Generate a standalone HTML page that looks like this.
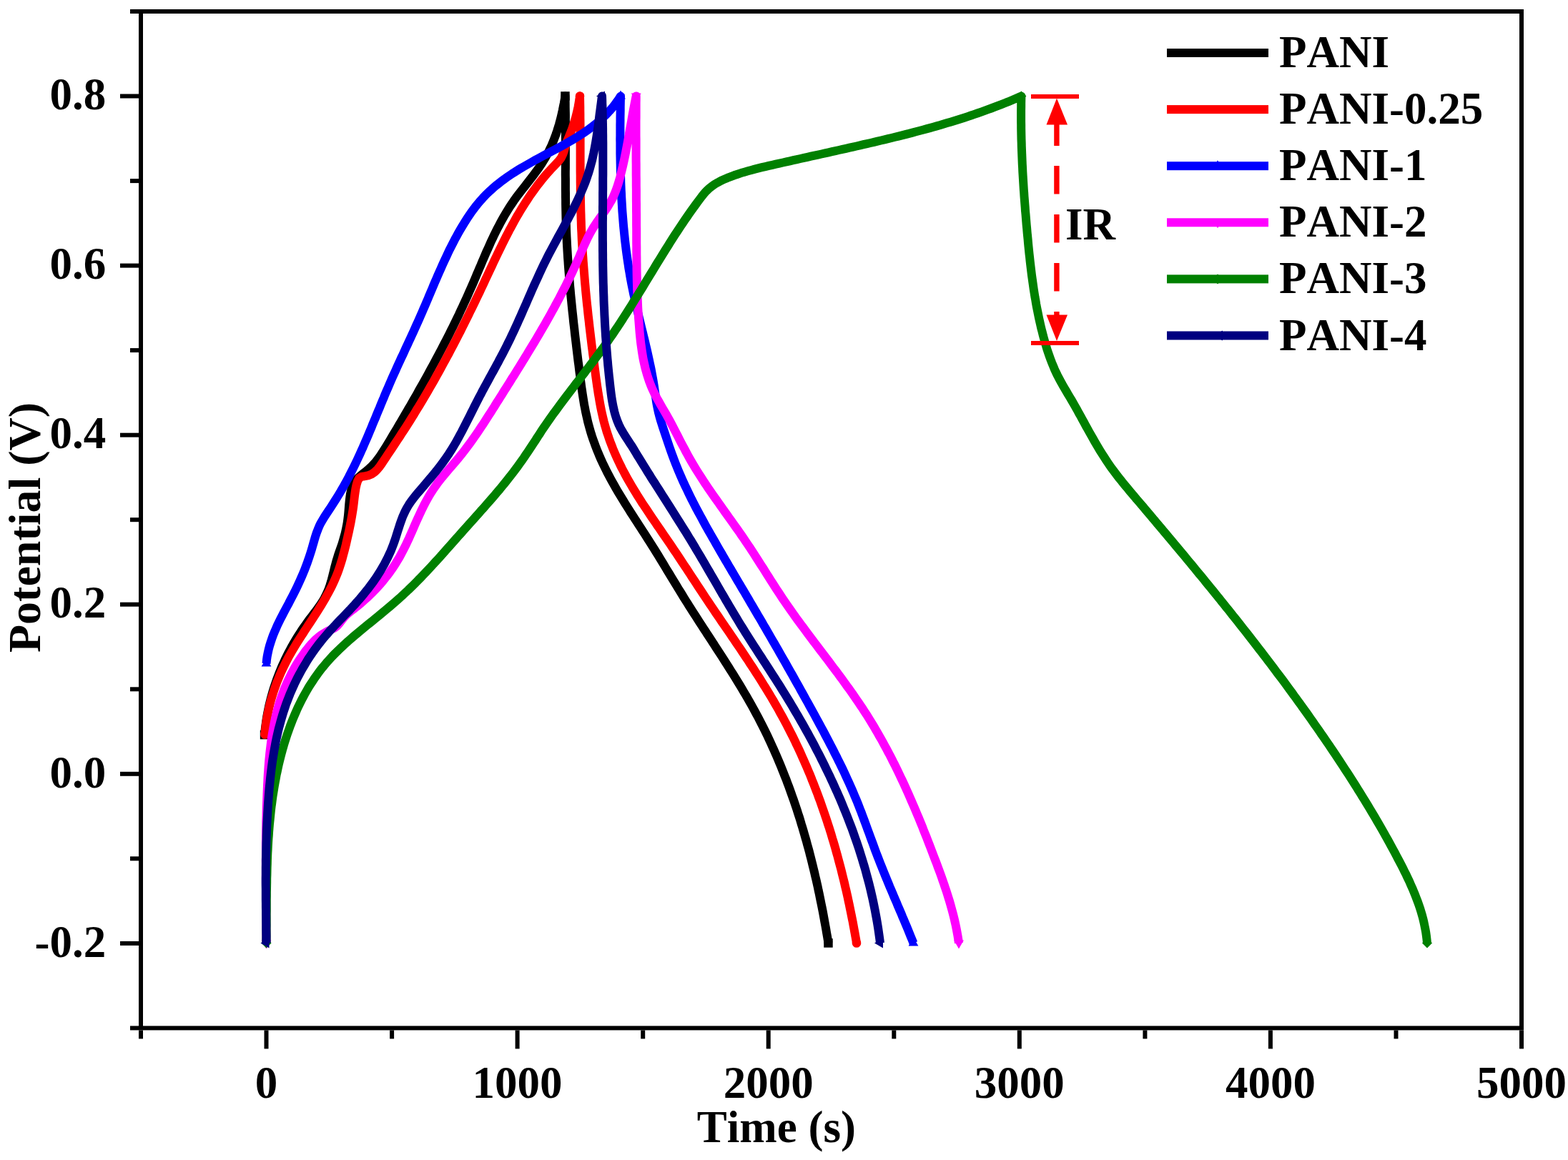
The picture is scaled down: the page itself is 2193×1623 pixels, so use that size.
<!DOCTYPE html>
<html><head><meta charset="utf-8"><title>GCD curves</title>
<style>html,body{margin:0;padding:0;background:#fff;}svg{display:block;}text{font-kerning:none;font-feature-settings:"kern" 0;}</style>
</head><body>
<svg width="2193" height="1623" viewBox="0 0 2193 1623"><rect width="2193" height="1623" fill="#fff"/><g fill="none" stroke-width="12" stroke-linejoin="round" stroke-linecap="butt"><path stroke="#000000" d="M370.0,1028.0 L370.5,1023.0 L371.0,1018.0 L371.7,1013.0 L372.4,1008.0 L373.2,1003.0 L374.1,998.0 L375.1,993.1 L376.1,988.2 L377.3,983.3 L378.5,978.4 L379.8,973.6 L381.2,968.7 L382.6,963.9 L384.2,959.1 L385.8,954.4 L387.5,949.6 L389.3,944.9 L391.1,940.2 L393.0,935.6 L395.0,931.0 L397.1,926.4 L399.2,921.8 L401.4,917.3 L403.7,912.8 L406.1,908.4 L408.5,903.9 L411.0,899.5 L413.6,895.2 L416.2,890.9 L418.9,886.6 L421.6,882.4 L424.5,878.2 L427.4,874.1 L430.3,870.0 L433.3,865.9 L436.4,861.9 L439.4,857.9 L442.5,853.8 L445.4,849.8 L448.3,845.7 L451.0,841.5 L453.5,837.3 L455.8,832.9 L457.9,828.4 L459.8,823.8 L461.4,819.1 L462.9,814.3 L464.3,809.4 L465.5,804.5 L466.7,799.6 L467.9,794.6 L469.2,789.7 L470.5,784.8 L472.0,779.9 L473.5,775.1 L475.2,770.4 L476.9,765.6 L478.5,760.9 L479.9,756.1 L481.3,751.3 L482.6,746.5 L483.7,741.7 L484.7,736.8 L485.6,731.8 L486.3,726.8 L486.9,721.8 L487.4,716.6 L487.8,711.5 L488.2,706.3 L488.7,701.1 L489.3,696.0 L490.0,691.0 L491.1,686.1 L492.4,681.3 L494.3,676.9 L496.8,672.8 L500.0,669.2 L503.7,665.9 L507.6,662.8 L511.6,659.6 L515.5,656.4 L519.2,653.0 L522.6,649.4 L525.9,645.6 L528.9,641.7 L531.8,637.6 L534.6,633.5 L537.3,629.2 L540.0,624.9 L542.6,620.6 L545.2,616.3 L547.7,612.0 L550.3,607.6 L552.9,603.3 L555.5,599.0 L558.0,594.6 L560.6,590.3 L563.1,586.0 L565.7,581.6 L568.2,577.3 L570.7,572.9 L573.3,568.6 L575.8,564.2 L578.3,559.8 L580.8,555.5 L583.3,551.1 L585.7,546.7 L588.2,542.3 L590.7,537.9 L593.1,533.6 L595.6,529.2 L598.0,524.8 L600.4,520.3 L602.8,515.9 L605.2,511.5 L607.6,507.1 L610.0,502.6 L612.4,498.2 L614.7,493.8 L617.1,489.3 L619.4,484.8 L621.7,480.4 L624.0,475.9 L626.3,471.4 L628.6,466.9 L630.8,462.4 L633.1,457.9 L635.3,453.4 L637.5,448.9 L639.7,444.3 L641.9,439.8 L644.0,435.2 L646.2,430.7 L648.3,426.1 L650.4,421.5 L652.5,416.9 L654.6,412.3 L656.6,407.7 L658.7,403.1 L660.7,398.5 L662.7,393.8 L664.7,389.2 L666.6,384.5 L668.6,379.9 L670.6,375.2 L672.6,370.6 L674.5,365.9 L676.5,361.3 L678.5,356.6 L680.5,352.0 L682.6,347.4 L684.7,342.8 L686.7,338.2 L688.9,333.7 L691.0,329.1 L693.2,324.6 L695.5,320.1 L697.8,315.7 L700.1,311.2 L702.6,306.8 L705.0,302.5 L707.6,298.2 L710.2,293.9 L712.8,289.6 L715.6,285.5 L718.4,281.3 L721.3,277.2 L724.3,273.2 L727.4,269.1 L730.5,265.1 L733.6,261.2 L736.7,257.2 L739.8,253.2 L742.9,249.2 L746.0,245.2 L749.0,241.2 L752.0,237.1 L754.9,233.0 L757.7,228.8 L760.3,224.6 L762.9,220.3 L765.3,215.9 L767.6,211.5 L769.8,207.0 L771.9,202.4 L773.8,197.8 L775.6,193.1 L777.4,188.3 L779.0,183.6 L780.5,178.8 L782.0,173.9 L783.3,169.0 L784.6,164.1 L785.7,159.2 L786.8,154.3 L787.8,149.3 L788.8,144.4 L789.7,139.4 L790.5,134.5 L790.6,139.5 L790.7,144.6 L790.7,149.6 L790.8,154.6 L790.9,159.6 L790.9,164.7 L790.9,169.7 L790.9,174.7 L790.9,179.8 L791.0,184.8 L790.9,189.9 L790.9,194.9 L790.9,199.9 L790.9,205.0 L790.9,210.0 L790.9,215.0 L790.9,220.1 L790.9,225.1 L790.9,230.2 L790.9,235.2 L790.8,240.2 L790.8,245.3 L790.9,250.3 L790.9,255.3 L790.9,260.4 L790.9,265.4 L791.0,270.4 L791.0,275.5 L791.1,280.5 L791.1,285.6 L791.2,290.6 L791.3,295.6 L791.4,300.6 L791.5,305.7 L791.7,310.7 L791.9,315.7 L792.0,320.8 L792.2,325.8 L792.4,330.8 L792.7,335.8 L792.9,340.8 L793.2,345.9 L793.5,350.9 L793.8,355.9 L794.1,360.9 L794.5,365.9 L794.8,370.9 L795.2,376.0 L795.6,381.0 L796.0,386.0 L796.4,391.0 L796.8,396.0 L797.2,401.0 L797.7,406.0 L798.1,411.0 L798.6,416.0 L799.1,421.0 L799.6,426.1 L800.1,431.1 L800.6,436.1 L801.2,441.1 L801.7,446.1 L802.2,451.1 L802.8,456.1 L803.4,461.1 L803.9,466.1 L804.5,471.1 L805.1,476.1 L805.7,481.1 L806.3,486.2 L806.9,491.2 L807.5,496.2 L808.1,501.2 L808.7,506.2 L809.4,511.2 L810.0,516.2 L810.6,521.2 L811.3,526.2 L811.9,531.3 L812.6,536.3 L813.2,541.3 L814.0,546.3 L814.7,551.2 L815.5,556.2 L816.3,561.2 L817.1,566.2 L818.1,571.1 L819.0,576.0 L820.1,580.9 L821.2,585.8 L822.3,590.7 L823.6,595.5 L824.9,600.3 L826.3,605.1 L827.8,609.9 L829.4,614.6 L831.1,619.3 L832.8,624.0 L834.6,628.7 L836.5,633.3 L838.4,637.9 L840.4,642.5 L842.5,647.1 L844.7,651.6 L846.9,656.1 L849.1,660.6 L851.5,665.1 L853.8,669.5 L856.2,673.9 L858.7,678.3 L861.2,682.7 L863.7,687.1 L866.3,691.4 L868.9,695.7 L871.6,700.0 L874.2,704.3 L876.9,708.6 L879.6,712.9 L882.3,717.2 L885.1,721.5 L887.8,725.7 L890.6,730.0 L893.3,734.2 L896.1,738.5 L898.8,742.7 L901.6,747.0 L904.3,751.2 L907.0,755.5 L909.7,759.7 L912.4,764.0 L915.1,768.3 L917.7,772.5 L920.4,776.8 L923.0,781.1 L925.6,785.4 L928.2,789.7 L930.8,794.0 L933.4,798.3 L936.0,802.5 L938.6,806.8 L941.2,811.1 L943.8,815.4 L946.4,819.7 L949.0,824.0 L951.7,828.3 L954.3,832.5 L956.9,836.8 L959.6,841.1 L962.3,845.3 L964.9,849.6 L967.6,853.8 L970.3,858.0 L973.1,862.3 L975.8,866.5 L978.5,870.7 L981.3,875.0 L984.0,879.2 L986.8,883.4 L989.5,887.7 L992.3,891.9 L995.0,896.1 L997.8,900.3 L1000.5,904.6 L1003.3,908.8 L1006.0,913.0 L1008.8,917.3 L1011.5,921.5 L1014.2,925.8 L1016.9,930.0 L1019.6,934.3 L1022.3,938.6 L1025.0,942.8 L1027.7,947.1 L1030.3,951.4 L1032.9,955.7 L1035.6,960.0 L1038.1,964.3 L1040.7,968.7 L1043.3,973.0 L1045.8,977.4 L1048.3,981.7 L1050.8,986.1 L1053.2,990.5 L1055.6,994.9 L1058.0,999.3 L1060.4,1003.8 L1062.7,1008.2 L1065.0,1012.7 L1067.3,1017.2 L1069.5,1021.7 L1071.7,1026.2 L1073.9,1030.7 L1076.0,1035.3 L1078.1,1039.8 L1080.2,1044.4 L1082.3,1049.0 L1084.3,1053.6 L1086.3,1058.2 L1088.3,1062.8 L1090.2,1067.4 L1092.2,1072.1 L1094.0,1076.7 L1095.9,1081.4 L1097.7,1086.1 L1099.6,1090.8 L1101.3,1095.5 L1103.1,1100.2 L1104.8,1104.9 L1106.5,1109.6 L1108.2,1114.4 L1109.9,1119.1 L1111.5,1123.9 L1113.1,1128.7 L1114.7,1133.4 L1116.2,1138.2 L1117.8,1143.0 L1119.3,1147.8 L1120.7,1152.7 L1122.2,1157.5 L1123.6,1162.3 L1125.0,1167.1 L1126.4,1172.0 L1127.8,1176.8 L1129.1,1181.7 L1130.5,1186.6 L1131.8,1191.4 L1133.0,1196.3 L1134.3,1201.2 L1135.5,1206.1 L1136.7,1211.0 L1137.9,1215.9 L1139.1,1220.8 L1140.2,1225.7 L1141.4,1230.6 L1142.5,1235.5 L1143.6,1240.4 L1144.6,1245.4 L1145.7,1250.3 L1146.7,1255.2 L1147.7,1260.2 L1148.7,1265.1 L1149.7,1270.0 L1150.7,1275.0 L1151.6,1279.9 L1152.5,1284.9 L1153.4,1289.8 L1154.3,1294.8 L1155.2,1299.7 L1156.0,1304.6 L1156.9,1309.6 L1157.7,1314.5 L1158.5,1319.5"/><rect x="363.8" y="1021.8" width="12.5" height="12.5" fill="#000000"/><rect x="784.2" y="128.2" width="12.5" height="12.5" fill="#000000"/><rect x="1152.2" y="1313.2" width="12.5" height="12.5" fill="#000000"/><path stroke="#ff0000" d="M370.4,1027.5 L370.9,1022.5 L371.4,1017.4 L372.1,1012.4 L372.8,1007.5 L373.7,1002.5 L374.7,997.6 L375.7,992.7 L376.9,987.8 L378.1,982.9 L379.4,978.1 L380.9,973.3 L382.4,968.5 L384.0,963.7 L385.7,959.0 L387.4,954.3 L389.3,949.7 L391.2,945.0 L393.2,940.4 L395.3,935.9 L397.5,931.4 L399.7,926.9 L402.0,922.4 L404.4,918.0 L406.9,913.6 L409.4,909.3 L412.0,905.0 L414.6,900.7 L417.2,896.4 L419.9,892.2 L422.7,888.0 L425.4,883.7 L428.2,879.5 L430.9,875.3 L433.7,871.1 L436.4,866.9 L439.2,862.7 L441.9,858.5 L444.6,854.2 L447.2,850.0 L449.9,845.7 L452.4,841.4 L455.0,837.1 L457.4,832.7 L459.8,828.3 L462.1,823.9 L464.4,819.4 L466.5,814.9 L468.6,810.3 L470.5,805.7 L472.4,801.0 L474.1,796.2 L475.7,791.4 L477.2,786.6 L478.7,781.7 L480.0,776.8 L481.3,771.9 L482.6,767.0 L483.8,762.1 L484.9,757.1 L486.0,752.2 L487.1,747.4 L488.2,742.5 L489.2,737.6 L490.2,732.8 L491.1,727.9 L492.0,723.0 L492.8,718.1 L493.6,713.1 L494.3,708.1 L494.9,703.0 L495.5,697.9 L496.1,692.8 L496.8,687.8 L497.6,682.8 L498.7,677.9 L500.1,673.2 L502.2,669.2 L505.9,666.9 L510.8,666.1 L515.8,665.1 L520.2,663.2 L524.1,660.4 L527.6,657.0 L530.8,653.2 L533.7,649.0 L536.6,644.7 L539.5,640.4 L542.3,636.1 L545.1,631.9 L548.0,627.6 L550.8,623.4 L553.5,619.2 L556.3,615.0 L559.1,610.8 L561.8,606.6 L564.6,602.4 L567.3,598.2 L570.0,594.0 L572.7,589.7 L575.3,585.5 L578.0,581.3 L580.6,577.0 L583.2,572.7 L585.9,568.4 L588.4,564.2 L591.0,559.9 L593.6,555.5 L596.1,551.2 L598.6,546.9 L601.1,542.6 L603.6,538.2 L606.1,533.9 L608.6,529.5 L611.0,525.1 L613.5,520.7 L615.9,516.3 L618.3,511.9 L620.7,507.5 L623.1,503.1 L625.5,498.7 L627.9,494.3 L630.2,489.8 L632.5,485.4 L634.9,480.9 L637.2,476.5 L639.5,472.0 L641.8,467.5 L644.1,463.1 L646.3,458.6 L648.6,454.1 L650.8,449.6 L653.1,445.1 L655.3,440.6 L657.5,436.0 L659.7,431.5 L661.9,427.0 L664.1,422.5 L666.3,417.9 L668.5,413.4 L670.7,408.8 L672.8,404.3 L675.0,399.7 L677.1,395.2 L679.2,390.6 L681.4,386.0 L683.5,381.5 L685.6,376.9 L687.8,372.3 L689.9,367.8 L692.1,363.2 L694.2,358.7 L696.4,354.2 L698.6,349.6 L700.8,345.1 L703.0,340.6 L705.3,336.1 L707.5,331.6 L709.8,327.2 L712.1,322.7 L714.5,318.3 L716.9,313.9 L719.3,309.5 L721.7,305.2 L724.2,300.8 L726.8,296.5 L729.3,292.2 L732.0,288.0 L734.6,283.8 L737.4,279.6 L740.1,275.4 L743.0,271.3 L745.9,267.2 L748.8,263.2 L751.8,259.2 L754.9,255.2 L758.0,251.3 L761.2,247.4 L764.5,243.5 L767.9,239.7 L771.3,236.0 L774.8,232.3 L778.3,228.6 L781.8,224.9 L784.8,220.9 L787.0,216.4 L788.7,211.7 L790.1,206.7 L791.6,201.9 L793.3,197.1 L795.2,192.5 L797.1,187.9 L799.0,183.2 L800.7,178.5 L802.3,173.7 L803.8,168.9 L805.2,164.1 L806.4,159.2 L807.6,154.3 L808.6,149.4 L809.5,144.4 L810.3,139.5 L811.0,134.5 L811.1,139.5 L811.2,144.5 L811.3,149.6 L811.3,154.6 L811.4,159.6 L811.4,164.6 L811.5,169.7 L811.5,174.7 L811.5,179.7 L811.5,184.7 L811.6,189.8 L811.6,194.8 L811.6,199.8 L811.6,204.8 L811.6,209.9 L811.6,214.9 L811.6,219.9 L811.6,225.0 L811.6,230.0 L811.6,235.0 L811.6,240.1 L811.7,245.1 L811.7,250.1 L811.7,255.1 L811.8,260.2 L811.8,265.2 L811.9,270.2 L811.9,275.3 L812.0,280.3 L812.1,285.3 L812.2,290.3 L812.3,295.4 L812.5,300.4 L812.6,305.4 L812.8,310.4 L812.9,315.4 L813.1,320.5 L813.4,325.5 L813.6,330.5 L813.8,335.5 L814.1,340.5 L814.4,345.5 L814.7,350.5 L815.0,355.5 L815.4,360.6 L815.7,365.6 L816.1,370.6 L816.5,375.6 L816.9,380.6 L817.3,385.6 L817.7,390.6 L818.1,395.6 L818.6,400.6 L819.0,405.6 L819.5,410.6 L820.0,415.6 L820.5,420.6 L821.0,425.6 L821.6,430.6 L822.1,435.6 L822.6,440.6 L823.2,445.6 L823.8,450.6 L824.3,455.6 L824.9,460.5 L825.5,465.5 L826.1,470.5 L826.7,475.5 L827.3,480.5 L827.9,485.5 L828.6,490.5 L829.2,495.5 L829.9,500.5 L830.5,505.5 L831.2,510.5 L831.8,515.5 L832.5,520.5 L833.1,525.5 L833.8,530.5 L834.5,535.5 L835.2,540.5 L836.0,545.5 L836.7,550.4 L837.6,555.4 L838.4,560.4 L839.3,565.3 L840.2,570.2 L841.2,575.1 L842.3,580.0 L843.4,584.9 L844.6,589.8 L845.9,594.6 L847.3,599.4 L848.7,604.2 L850.3,608.9 L851.9,613.7 L853.6,618.4 L855.4,623.0 L857.2,627.7 L859.1,632.3 L861.1,636.9 L863.2,641.5 L865.3,646.0 L867.5,650.5 L869.7,655.0 L872.1,659.5 L874.4,663.9 L876.8,668.3 L879.3,672.7 L881.8,677.0 L884.3,681.4 L886.9,685.7 L889.6,690.0 L892.2,694.3 L894.9,698.5 L897.6,702.8 L900.4,707.0 L903.2,711.2 L906.0,715.4 L908.8,719.6 L911.6,723.8 L914.4,727.9 L917.3,732.1 L920.1,736.3 L923.0,740.4 L925.8,744.6 L928.7,748.8 L931.5,752.9 L934.4,757.1 L937.2,761.2 L940.0,765.4 L942.8,769.6 L945.6,773.7 L948.4,777.9 L951.2,782.1 L953.9,786.3 L956.7,790.5 L959.5,794.6 L962.2,798.8 L965.0,803.0 L967.7,807.2 L970.5,811.4 L973.2,815.6 L976.0,819.8 L978.7,823.9 L981.5,828.1 L984.2,832.3 L987.0,836.5 L989.8,840.6 L992.6,844.8 L995.4,849.0 L998.2,853.1 L1001.0,857.3 L1003.9,861.5 L1006.7,865.6 L1009.5,869.8 L1012.3,873.9 L1015.2,878.1 L1018.0,882.2 L1020.9,886.4 L1023.7,890.6 L1026.5,894.7 L1029.3,898.9 L1032.2,903.1 L1035.0,907.2 L1037.8,911.4 L1040.6,915.6 L1043.4,919.8 L1046.2,924.0 L1048.9,928.2 L1051.7,932.4 L1054.4,936.6 L1057.2,940.9 L1059.9,945.1 L1062.6,949.3 L1065.3,953.6 L1067.9,957.9 L1070.6,962.1 L1073.2,966.4 L1075.8,970.7 L1078.4,975.0 L1081.0,979.3 L1083.5,983.7 L1086.0,988.0 L1088.5,992.4 L1090.9,996.8 L1093.4,1001.2 L1095.8,1005.6 L1098.1,1010.0 L1100.5,1014.4 L1102.8,1018.9 L1105.1,1023.4 L1107.3,1027.8 L1109.6,1032.3 L1111.8,1036.8 L1113.9,1041.4 L1116.1,1045.9 L1118.2,1050.4 L1120.3,1055.0 L1122.3,1059.6 L1124.4,1064.2 L1126.4,1068.8 L1128.4,1073.4 L1130.3,1078.0 L1132.3,1082.6 L1134.2,1087.3 L1136.0,1092.0 L1137.9,1096.6 L1139.7,1101.3 L1141.5,1106.0 L1143.3,1110.7 L1145.0,1115.4 L1146.8,1120.1 L1148.5,1124.9 L1150.1,1129.6 L1151.8,1134.4 L1153.4,1139.1 L1155.0,1143.9 L1156.6,1148.7 L1158.1,1153.4 L1159.7,1158.2 L1161.2,1163.0 L1162.7,1167.8 L1164.1,1172.7 L1165.6,1177.5 L1167.0,1182.3 L1168.4,1187.1 L1169.7,1192.0 L1171.1,1196.8 L1172.4,1201.7 L1173.7,1206.6 L1175.0,1211.4 L1176.3,1216.3 L1177.5,1221.2 L1178.7,1226.1 L1179.9,1230.9 L1181.1,1235.8 L1182.2,1240.7 L1183.4,1245.6 L1184.5,1250.5 L1185.6,1255.4 L1186.6,1260.4 L1187.7,1265.3 L1188.7,1270.2 L1189.7,1275.1 L1190.7,1280.0 L1191.7,1285.0 L1192.7,1289.9 L1193.6,1294.8 L1194.5,1299.8 L1195.4,1304.7 L1196.3,1309.6 L1197.2,1314.6 L1198.0,1319.5"/><circle cx="370.4" cy="1027.5" r="6.3" fill="#ff0000"/><circle cx="811.0" cy="134.5" r="6.3" fill="#ff0000"/><circle cx="1198.0" cy="1319.5" r="6.3" fill="#ff0000"/><path stroke="#0000ff" d="M372.5,928.4 L373.0,923.2 L373.7,918.2 L374.7,913.2 L375.8,908.2 L377.1,903.4 L378.6,898.6 L380.2,893.8 L381.9,889.1 L383.8,884.4 L385.8,879.8 L387.8,875.2 L390.0,870.7 L392.2,866.2 L394.5,861.7 L396.8,857.2 L399.2,852.7 L401.6,848.2 L404.0,843.8 L406.3,839.3 L408.7,834.8 L411.0,830.3 L413.2,825.8 L415.4,821.3 L417.6,816.7 L419.7,812.1 L421.7,807.5 L423.7,802.9 L425.6,798.3 L427.4,793.6 L429.2,788.9 L430.9,784.1 L432.5,779.4 L434.1,774.5 L435.6,769.7 L437.0,764.9 L438.4,760.0 L439.8,755.1 L441.2,750.3 L442.8,745.5 L444.6,740.8 L446.5,736.2 L448.7,731.7 L451.2,727.4 L453.8,723.1 L456.6,718.9 L459.4,714.7 L462.2,710.5 L464.9,706.3 L467.6,702.0 L470.3,697.7 L473.0,693.4 L475.6,689.1 L478.1,684.7 L480.6,680.4 L483.1,676.0 L485.5,671.5 L487.9,667.1 L490.2,662.6 L492.5,658.1 L494.7,653.6 L496.9,649.1 L499.1,644.5 L501.2,640.0 L503.3,635.4 L505.4,630.8 L507.5,626.2 L509.5,621.5 L511.5,616.9 L513.5,612.3 L515.5,607.6 L517.4,603.0 L519.4,598.3 L521.3,593.6 L523.2,589.0 L525.2,584.3 L527.1,579.6 L529.0,574.9 L531.0,570.3 L532.9,565.6 L534.8,560.9 L536.8,556.3 L538.7,551.6 L540.7,546.9 L542.7,542.3 L544.7,537.7 L546.7,533.0 L548.7,528.4 L550.8,523.8 L552.9,519.2 L554.9,514.6 L557.0,510.0 L559.1,505.4 L561.2,500.9 L563.4,496.3 L565.5,491.7 L567.6,487.1 L569.7,482.6 L571.8,478.0 L574.0,473.4 L576.1,468.8 L578.2,464.2 L580.3,459.6 L582.3,455.0 L584.4,450.4 L586.5,445.8 L588.5,441.2 L590.5,436.6 L592.5,431.9 L594.5,427.3 L596.5,422.7 L598.5,418.0 L600.4,413.3 L602.4,408.7 L604.4,404.0 L606.3,399.4 L608.3,394.7 L610.3,390.1 L612.3,385.4 L614.3,380.8 L616.4,376.2 L618.4,371.6 L620.5,367.0 L622.6,362.4 L624.8,357.8 L626.9,353.3 L629.1,348.7 L631.4,344.2 L633.7,339.7 L636.0,335.2 L638.4,330.8 L640.8,326.4 L643.3,322.0 L645.9,317.6 L648.5,313.3 L651.2,309.0 L653.9,304.8 L656.7,300.6 L659.6,296.4 L662.6,292.4 L665.6,288.4 L668.8,284.5 L672.0,280.7 L675.4,276.9 L678.8,273.3 L682.4,269.8 L686.0,266.4 L689.7,263.1 L693.5,259.8 L697.4,256.7 L701.4,253.6 L705.4,250.6 L709.5,247.7 L713.6,244.9 L717.8,242.1 L722.1,239.4 L726.4,236.7 L730.7,234.1 L735.1,231.6 L739.5,229.1 L743.9,226.6 L748.4,224.1 L752.8,221.7 L757.3,219.3 L761.8,216.9 L766.3,214.5 L770.8,212.2 L775.3,209.8 L779.8,207.4 L784.3,205.0 L788.7,202.5 L793.1,200.0 L797.5,197.5 L801.8,195.0 L806.1,192.4 L810.4,189.7 L814.6,187.0 L818.7,184.2 L822.8,181.3 L826.8,178.4 L830.8,175.3 L834.7,172.2 L838.4,169.0 L842.1,165.7 L845.8,162.2 L849.3,158.7 L852.7,155.0 L856.0,151.2 L859.2,147.2 L862.2,143.1 L865.2,138.9 L868.0,134.5 L867.9,139.5 L867.8,144.5 L867.7,149.6 L867.7,154.6 L867.6,159.6 L867.5,164.6 L867.5,169.7 L867.4,174.7 L867.4,179.7 L867.4,184.8 L867.4,189.8 L867.3,194.8 L867.4,199.9 L867.4,204.9 L867.4,210.0 L867.4,215.0 L867.5,220.0 L867.6,225.1 L867.7,230.1 L867.8,235.2 L867.9,240.2 L868.0,245.2 L868.2,250.3 L868.3,255.3 L868.5,260.3 L868.7,265.4 L869.0,270.4 L869.2,275.4 L869.5,280.5 L869.8,285.5 L870.1,290.5 L870.4,295.6 L870.8,300.6 L871.2,305.6 L871.6,310.6 L872.0,315.6 L872.5,320.6 L873.0,325.6 L873.5,330.6 L874.0,335.6 L874.6,340.6 L875.2,345.6 L875.8,350.6 L876.5,355.6 L877.2,360.6 L877.9,365.5 L878.7,370.5 L879.4,375.5 L880.3,380.4 L881.1,385.4 L882.0,390.3 L882.9,395.3 L883.9,400.2 L884.9,405.1 L885.9,410.1 L887.0,415.0 L888.1,419.9 L889.2,424.8 L890.3,429.7 L891.5,434.6 L892.7,439.5 L893.8,444.4 L895.0,449.3 L896.2,454.2 L897.4,459.1 L898.6,464.0 L899.8,468.9 L901.0,473.8 L902.2,478.7 L903.3,483.6 L904.5,488.5 L905.6,493.4 L906.7,498.3 L907.8,503.3 L908.8,508.2 L909.9,513.1 L910.9,518.0 L911.8,523.0 L912.7,527.9 L913.6,532.9 L914.4,537.8 L915.2,542.8 L915.9,547.8 L916.6,552.8 L917.4,557.7 L918.1,562.7 L919.0,567.6 L920.0,572.5 L921.0,577.3 L922.3,582.2 L923.6,586.9 L925.1,591.7 L926.6,596.5 L928.2,601.2 L929.8,606.0 L931.4,610.8 L933.0,615.6 L934.6,620.4 L936.2,625.1 L937.9,629.9 L939.6,634.7 L941.3,639.4 L943.1,644.2 L944.9,648.9 L946.8,653.6 L948.7,658.2 L950.7,662.9 L952.7,667.5 L954.7,672.1 L956.8,676.6 L958.9,681.2 L961.1,685.7 L963.3,690.3 L965.5,694.8 L967.7,699.3 L970.0,703.7 L972.3,708.2 L974.6,712.7 L977.0,717.1 L979.4,721.5 L981.8,725.9 L984.2,730.4 L986.6,734.8 L989.0,739.1 L991.5,743.5 L994.0,747.9 L996.5,752.3 L999.0,756.6 L1001.5,761.0 L1004.0,765.4 L1006.5,769.7 L1009.1,774.1 L1011.6,778.4 L1014.1,782.8 L1016.7,787.1 L1019.2,791.5 L1021.8,795.8 L1024.3,800.2 L1026.9,804.5 L1029.4,808.8 L1032.0,813.2 L1034.6,817.5 L1037.1,821.9 L1039.7,826.2 L1042.3,830.5 L1044.8,834.9 L1047.4,839.2 L1049.9,843.6 L1052.5,847.9 L1055.0,852.2 L1057.6,856.6 L1060.1,860.9 L1062.7,865.3 L1065.2,869.6 L1067.7,874.0 L1070.3,878.3 L1072.8,882.7 L1075.3,887.0 L1077.8,891.4 L1080.3,895.7 L1082.9,900.1 L1085.4,904.5 L1087.9,908.8 L1090.4,913.2 L1092.9,917.6 L1095.4,921.9 L1097.9,926.3 L1100.4,930.7 L1102.8,935.1 L1105.3,939.4 L1107.8,943.8 L1110.3,948.2 L1112.7,952.6 L1115.2,957.0 L1117.7,961.4 L1120.1,965.8 L1122.6,970.2 L1125.0,974.6 L1127.4,979.0 L1129.9,983.4 L1132.3,987.8 L1134.7,992.2 L1137.2,996.6 L1139.6,1001.0 L1142.0,1005.5 L1144.4,1009.9 L1146.8,1014.3 L1149.2,1018.8 L1151.6,1023.2 L1153.9,1027.6 L1156.3,1032.1 L1158.6,1036.5 L1160.9,1041.0 L1163.3,1045.5 L1165.6,1050.0 L1167.8,1054.5 L1170.1,1058.9 L1172.3,1063.5 L1174.6,1068.0 L1176.8,1072.5 L1179.0,1077.0 L1181.1,1081.6 L1183.2,1086.1 L1185.3,1090.7 L1187.4,1095.3 L1189.5,1099.9 L1191.5,1104.5 L1193.5,1109.1 L1195.4,1113.7 L1197.4,1118.4 L1199.3,1123.0 L1201.1,1127.7 L1202.9,1132.4 L1204.8,1137.1 L1206.5,1141.8 L1208.3,1146.5 L1210.1,1151.3 L1211.8,1156.0 L1213.5,1160.7 L1215.3,1165.5 L1217.0,1170.2 L1218.7,1174.9 L1220.5,1179.7 L1222.2,1184.4 L1223.9,1189.1 L1225.7,1193.8 L1227.5,1198.5 L1229.3,1203.2 L1231.1,1207.9 L1233.0,1212.6 L1234.9,1217.3 L1236.8,1222.0 L1238.7,1226.6 L1240.6,1231.3 L1242.5,1235.9 L1244.4,1240.6 L1246.4,1245.2 L1248.4,1249.8 L1250.3,1254.5 L1252.3,1259.1 L1254.3,1263.7 L1256.2,1268.4 L1258.2,1273.0 L1260.2,1277.6 L1262.1,1282.3 L1264.1,1286.9 L1266.0,1291.5 L1268.0,1296.2 L1269.9,1300.8 L1271.8,1305.5 L1273.7,1310.2 L1275.6,1314.8 L1277.5,1319.5"/><polygon points="372.5,920.4 365.6,932.4 379.4,932.4" fill="#0000ff"/><polygon points="868.0,126.5 861.1,138.5 874.9,138.5" fill="#0000ff"/><polygon points="1277.5,1311.5 1270.6,1323.5 1284.4,1323.5" fill="#0000ff"/><path stroke="#ff00ff" d="M372.5,1319.5 L372.5,1314.5 L372.5,1309.4 L372.4,1304.4 L372.4,1299.3 L372.4,1294.3 L372.3,1289.3 L372.3,1284.2 L372.3,1279.2 L372.2,1274.2 L372.2,1269.2 L372.2,1264.2 L372.1,1259.1 L372.1,1254.1 L372.0,1249.1 L372.0,1244.1 L372.0,1239.1 L371.9,1234.1 L371.9,1229.1 L371.9,1224.1 L371.9,1219.1 L371.9,1214.1 L371.9,1209.1 L371.8,1204.1 L371.9,1199.0 L371.9,1194.0 L371.9,1189.0 L371.9,1184.0 L371.9,1179.0 L372.0,1174.0 L372.0,1169.0 L372.1,1164.0 L372.2,1159.0 L372.3,1154.0 L372.3,1149.0 L372.5,1144.0 L372.6,1138.9 L372.7,1133.9 L372.8,1128.9 L373.0,1123.9 L373.2,1118.9 L373.4,1113.8 L373.6,1108.8 L373.8,1103.8 L374.0,1098.7 L374.3,1093.7 L374.5,1088.7 L374.8,1083.6 L375.2,1078.6 L375.5,1073.5 L375.9,1068.5 L376.3,1063.5 L376.8,1058.5 L377.3,1053.5 L377.9,1048.4 L378.5,1043.5 L379.1,1038.5 L379.8,1033.5 L380.6,1028.5 L381.4,1023.6 L382.3,1018.7 L383.2,1013.8 L384.2,1008.9 L385.3,1004.0 L386.5,999.2 L387.7,994.3 L389.0,989.5 L390.4,984.8 L391.9,980.0 L393.5,975.3 L395.2,970.6 L396.9,965.9 L398.8,961.3 L400.8,956.7 L402.8,952.1 L405.0,947.6 L407.2,943.1 L409.6,938.7 L412.0,934.3 L414.6,929.9 L417.2,925.6 L420.0,921.4 L422.8,917.3 L425.7,913.2 L428.7,909.2 L431.9,905.2 L435.1,901.4 L438.5,897.8 L442.0,894.3 L445.8,891.1 L449.8,888.1 L454.0,885.5 L458.4,883.1 L463.1,881.0 L467.6,878.7 L471.5,875.7 L474.8,872.0 L477.8,867.9 L481.0,863.9 L484.5,860.3 L488.3,857.0 L492.2,853.9 L496.2,850.9 L500.1,847.8 L504.0,844.6 L507.8,841.3 L511.6,837.9 L515.3,834.5 L518.9,831.0 L522.4,827.5 L525.9,823.8 L529.3,820.1 L532.6,816.4 L535.9,812.5 L539.0,808.6 L542.1,804.7 L545.1,800.6 L548.0,796.6 L550.8,792.4 L553.5,788.2 L556.1,783.9 L558.7,779.6 L561.1,775.2 L563.4,770.8 L565.7,766.3 L567.9,761.8 L570.1,757.2 L572.2,752.7 L574.2,748.1 L576.3,743.5 L578.3,738.8 L580.3,734.2 L582.3,729.6 L584.4,725.0 L586.5,720.5 L588.6,715.9 L590.8,711.4 L593.0,706.9 L595.3,702.5 L597.7,698.1 L600.1,693.8 L602.7,689.6 L605.4,685.4 L608.2,681.3 L611.1,677.2 L614.1,673.2 L617.2,669.3 L620.4,665.4 L623.6,661.6 L626.9,657.7 L630.2,653.9 L633.4,650.1 L636.7,646.3 L640.0,642.4 L643.1,638.5 L646.3,634.6 L649.4,630.6 L652.4,626.6 L655.4,622.6 L658.4,618.6 L661.3,614.5 L664.2,610.4 L667.0,606.3 L669.9,602.1 L672.6,597.9 L675.4,593.8 L678.2,589.5 L680.9,585.3 L683.6,581.1 L686.3,576.9 L689.0,572.6 L691.7,568.4 L694.3,564.1 L697.0,559.9 L699.7,555.6 L702.4,551.4 L705.0,547.1 L707.7,542.9 L710.4,538.6 L713.1,534.4 L715.7,530.1 L718.4,525.9 L721.1,521.6 L723.7,517.4 L726.4,513.1 L729.0,508.8 L731.6,504.6 L734.3,500.3 L736.9,496.0 L739.5,491.7 L742.1,487.4 L744.7,483.1 L747.3,478.8 L749.9,474.5 L752.4,470.2 L755.0,465.9 L757.5,461.5 L760.0,457.2 L762.5,452.9 L765.0,448.5 L767.5,444.1 L769.9,439.8 L772.3,435.4 L774.8,431.0 L777.1,426.6 L779.5,422.2 L781.9,417.7 L784.2,413.3 L786.5,408.8 L788.8,404.4 L791.1,399.9 L793.3,395.4 L795.5,390.9 L797.7,386.4 L799.9,381.9 L802.0,377.3 L804.1,372.7 L806.2,368.2 L808.2,363.6 L810.3,359.0 L812.2,354.3 L814.2,349.7 L816.3,345.1 L818.3,340.5 L820.4,335.9 L822.6,331.4 L824.9,327.0 L827.4,322.6 L829.9,318.3 L832.7,314.1 L835.5,309.9 L838.4,305.8 L841.3,301.7 L844.3,297.6 L847.1,293.5 L849.9,289.3 L852.5,285.0 L855.0,280.7 L857.3,276.2 L859.3,271.7 L861.2,267.0 L862.9,262.3 L864.5,257.5 L865.9,252.7 L867.3,247.8 L868.5,242.9 L869.7,238.0 L870.9,233.1 L872.0,228.1 L873.1,223.2 L874.1,218.3 L875.1,213.4 L876.0,208.5 L877.0,203.5 L877.9,198.6 L878.8,193.7 L879.7,188.8 L880.5,183.8 L881.4,178.9 L882.3,174.0 L883.2,169.0 L884.0,164.1 L884.9,159.2 L885.8,154.2 L886.8,149.3 L887.7,144.4 L888.7,139.4 L889.7,134.5 L889.7,139.5 L889.6,144.5 L889.6,149.5 L889.6,154.6 L889.6,159.6 L889.6,164.6 L889.5,169.6 L889.5,174.6 L889.5,179.6 L889.5,184.7 L889.5,189.7 L889.6,194.7 L889.6,199.7 L889.6,204.8 L889.6,209.8 L889.6,214.8 L889.6,219.8 L889.6,224.8 L889.7,229.9 L889.7,234.9 L889.7,239.9 L889.7,244.9 L889.8,250.0 L889.8,255.0 L889.8,260.0 L889.9,265.0 L889.9,270.0 L889.9,275.1 L889.9,280.1 L890.0,285.1 L890.0,290.1 L890.0,295.1 L890.1,300.2 L890.1,305.2 L890.1,310.2 L890.1,315.2 L890.2,320.2 L890.2,325.3 L890.2,330.3 L890.2,335.3 L890.2,340.3 L890.3,345.3 L890.3,350.3 L890.3,355.3 L890.4,360.3 L890.4,365.4 L890.5,370.4 L890.5,375.4 L890.6,380.4 L890.7,385.4 L890.8,390.4 L890.9,395.4 L891.1,400.4 L891.2,405.5 L891.4,410.5 L891.6,415.5 L891.8,420.5 L892.0,425.5 L892.2,430.5 L892.5,435.6 L892.8,440.6 L893.1,445.6 L893.5,450.6 L893.9,455.6 L894.3,460.7 L894.7,465.7 L895.2,470.7 L895.7,475.7 L896.3,480.7 L897.0,485.7 L897.7,490.7 L898.5,495.7 L899.3,500.6 L900.3,505.5 L901.4,510.4 L902.5,515.2 L903.8,520.0 L905.2,524.8 L906.7,529.5 L908.3,534.2 L910.1,538.9 L912.0,543.5 L914.1,548.0 L916.3,552.5 L918.6,556.9 L921.1,561.3 L923.6,565.7 L926.1,570.1 L928.7,574.5 L931.2,578.8 L933.7,583.2 L936.2,587.7 L938.6,592.1 L940.9,596.5 L943.2,601.0 L945.5,605.5 L947.8,609.9 L950.1,614.4 L952.4,618.9 L954.7,623.3 L957.1,627.7 L959.4,632.1 L961.8,636.5 L964.2,640.9 L966.7,645.3 L969.2,649.6 L971.8,653.9 L974.4,658.1 L977.1,662.4 L979.8,666.6 L982.5,670.8 L985.2,675.0 L988.0,679.1 L990.8,683.3 L993.6,687.4 L996.5,691.6 L999.4,695.7 L1002.3,699.8 L1005.2,703.9 L1008.1,708.0 L1011.0,712.1 L1013.9,716.2 L1016.8,720.3 L1019.7,724.4 L1022.7,728.5 L1025.6,732.6 L1028.5,736.7 L1031.4,740.8 L1034.3,744.9 L1037.1,749.0 L1040.0,753.2 L1042.8,757.3 L1045.6,761.5 L1048.4,765.6 L1051.1,769.8 L1053.9,774.0 L1056.6,778.2 L1059.3,782.5 L1062.0,786.7 L1064.7,790.9 L1067.4,795.1 L1070.1,799.4 L1072.7,803.6 L1075.4,807.8 L1078.1,812.1 L1080.8,816.3 L1083.5,820.5 L1086.2,824.7 L1089.0,828.9 L1091.7,833.1 L1094.5,837.3 L1097.3,841.4 L1100.2,845.6 L1103.0,849.7 L1105.9,853.8 L1108.8,857.9 L1111.7,862.0 L1114.6,866.1 L1117.6,870.1 L1120.6,874.2 L1123.6,878.2 L1126.6,882.3 L1129.6,886.3 L1132.6,890.3 L1135.6,894.3 L1138.6,898.4 L1141.7,902.4 L1144.7,906.4 L1147.7,910.4 L1150.8,914.4 L1153.8,918.4 L1156.9,922.4 L1159.9,926.4 L1162.9,930.5 L1165.9,934.5 L1169.0,938.5 L1172.0,942.5 L1175.0,946.6 L1177.9,950.6 L1180.9,954.7 L1183.8,958.8 L1186.8,962.8 L1189.7,966.9 L1192.6,971.0 L1195.4,975.1 L1198.3,979.3 L1201.1,983.4 L1203.9,987.6 L1206.7,991.7 L1209.4,995.9 L1212.1,1000.1 L1214.8,1004.4 L1217.4,1008.6 L1220.0,1012.9 L1222.6,1017.2 L1225.1,1021.5 L1227.6,1025.8 L1230.1,1030.2 L1232.6,1034.5 L1235.0,1038.9 L1237.4,1043.3 L1239.8,1047.7 L1242.1,1052.1 L1244.5,1056.5 L1246.8,1061.0 L1249.0,1065.5 L1251.3,1069.9 L1253.5,1074.4 L1255.7,1078.9 L1257.9,1083.5 L1260.0,1088.0 L1262.2,1092.5 L1264.3,1097.1 L1266.4,1101.6 L1268.4,1106.2 L1270.5,1110.8 L1272.5,1115.4 L1274.5,1120.0 L1276.5,1124.6 L1278.5,1129.2 L1280.5,1133.9 L1282.4,1138.5 L1284.4,1143.1 L1286.3,1147.8 L1288.2,1152.4 L1290.1,1157.1 L1291.9,1161.8 L1293.8,1166.5 L1295.7,1171.1 L1297.5,1175.8 L1299.3,1180.5 L1301.1,1185.2 L1302.9,1189.9 L1304.7,1194.6 L1306.5,1199.3 L1308.3,1204.0 L1310.1,1208.7 L1311.8,1213.4 L1313.6,1218.1 L1315.3,1222.8 L1317.0,1227.6 L1318.6,1232.3 L1320.3,1237.0 L1321.9,1241.8 L1323.5,1246.5 L1325.0,1251.3 L1326.5,1256.1 L1328.0,1260.9 L1329.4,1265.7 L1330.7,1270.5 L1332.0,1275.3 L1333.3,1280.1 L1334.5,1285.0 L1335.6,1289.9 L1336.7,1294.8 L1337.7,1299.7 L1338.6,1304.6 L1339.5,1309.5 L1340.3,1314.5 L1341.0,1319.5"/><polygon points="372.5,1327.5 365.6,1315.5 379.4,1315.5" fill="#ff00ff"/><polygon points="889.7,142.5 882.8,130.5 896.6,130.5" fill="#ff00ff"/><polygon points="1341.0,1327.5 1334.1,1315.5 1347.9,1315.5" fill="#ff00ff"/><path stroke="#008000" d="M372.5,1319.5 L372.5,1314.5 L372.6,1309.4 L372.6,1304.4 L372.6,1299.3 L372.7,1294.3 L372.7,1289.3 L372.7,1284.2 L372.7,1279.2 L372.8,1274.1 L372.8,1269.1 L372.8,1264.1 L372.8,1259.0 L372.9,1254.0 L372.9,1249.0 L373.0,1243.9 L373.1,1238.9 L373.2,1233.9 L373.2,1228.9 L373.4,1223.8 L373.5,1218.8 L373.6,1213.8 L373.8,1208.8 L373.9,1203.8 L374.1,1198.8 L374.3,1193.7 L374.6,1188.7 L374.8,1183.7 L375.1,1178.7 L375.4,1173.7 L375.8,1168.7 L376.1,1163.7 L376.5,1158.8 L376.9,1153.8 L377.4,1148.8 L377.9,1143.8 L378.4,1138.8 L378.9,1133.9 L379.5,1128.9 L380.2,1123.9 L380.8,1119.0 L381.5,1114.0 L382.3,1109.0 L383.1,1104.1 L383.9,1099.1 L384.8,1094.2 L385.7,1089.3 L386.6,1084.3 L387.7,1079.4 L388.7,1074.5 L389.8,1069.5 L391.0,1064.6 L392.2,1059.7 L393.5,1054.8 L394.8,1049.9 L396.2,1045.1 L397.6,1040.2 L399.1,1035.4 L400.7,1030.5 L402.3,1025.7 L404.0,1021.0 L405.7,1016.2 L407.5,1011.5 L409.3,1006.8 L411.3,1002.1 L413.3,997.5 L415.3,992.9 L417.4,988.3 L419.6,983.8 L421.9,979.3 L424.2,974.9 L426.6,970.5 L429.1,966.1 L431.6,961.8 L434.3,957.6 L437.0,953.4 L439.7,949.2 L442.6,945.2 L445.5,941.1 L448.5,937.2 L451.6,933.3 L454.8,929.5 L458.0,925.7 L461.4,922.0 L464.8,918.3 L468.2,914.8 L471.8,911.2 L475.4,907.7 L479.0,904.3 L482.7,900.9 L486.4,897.5 L490.2,894.2 L494.0,890.9 L497.9,887.6 L501.8,884.3 L505.7,881.1 L509.6,877.9 L513.5,874.7 L517.5,871.5 L521.4,868.3 L525.3,865.1 L529.3,861.9 L533.2,858.6 L537.1,855.4 L541.0,852.2 L544.9,848.9 L548.7,845.7 L552.6,842.3 L556.3,839.0 L560.1,835.6 L563.8,832.3 L567.4,828.8 L571.1,825.4 L574.7,821.9 L578.2,818.4 L581.8,814.9 L585.3,811.3 L588.8,807.7 L592.2,804.1 L595.7,800.5 L599.1,796.9 L602.5,793.2 L605.9,789.5 L609.2,785.9 L612.6,782.2 L616.0,778.4 L619.3,774.7 L622.6,771.0 L625.9,767.3 L629.3,763.5 L632.6,759.8 L635.9,756.0 L639.2,752.2 L642.6,748.5 L645.9,744.7 L649.2,741.0 L652.6,737.2 L655.9,733.5 L659.3,729.7 L662.7,725.9 L666.0,722.2 L669.4,718.4 L672.8,714.6 L676.1,710.9 L679.4,707.1 L682.8,703.3 L686.1,699.5 L689.4,695.7 L692.7,691.9 L695.9,688.0 L699.2,684.2 L702.4,680.3 L705.6,676.4 L708.7,672.5 L711.8,668.6 L714.9,664.6 L718.0,660.6 L721.0,656.6 L724.0,652.6 L726.9,648.6 L729.8,644.5 L732.7,640.4 L735.5,636.2 L738.3,632.1 L741.1,627.9 L743.9,623.7 L746.6,619.5 L749.4,615.3 L752.1,611.0 L754.9,606.8 L757.6,602.6 L760.4,598.4 L763.2,594.3 L766.1,590.1 L769.0,586.0 L771.9,581.9 L774.8,577.8 L777.8,573.8 L780.8,569.7 L783.7,565.7 L786.8,561.6 L789.8,557.6 L792.8,553.6 L795.9,549.6 L798.9,545.6 L802.0,541.6 L805.0,537.6 L808.1,533.7 L811.2,529.7 L814.2,525.7 L817.3,521.7 L820.3,517.7 L823.4,513.7 L826.4,509.7 L829.5,505.7 L832.5,501.7 L835.5,497.7 L838.5,493.6 L841.4,489.6 L844.4,485.5 L847.3,481.4 L850.2,477.3 L853.0,473.2 L855.9,469.1 L858.7,464.9 L861.5,460.7 L864.3,456.6 L867.0,452.4 L869.8,448.2 L872.5,443.9 L875.2,439.7 L877.9,435.5 L880.6,431.2 L883.3,427.0 L885.9,422.7 L888.6,418.4 L891.2,414.2 L893.8,409.9 L896.5,405.6 L899.1,401.3 L901.7,397.0 L904.3,392.7 L906.9,388.4 L909.5,384.1 L912.2,379.8 L914.8,375.5 L917.4,371.2 L920.0,366.9 L922.7,362.6 L925.3,358.4 L927.9,354.1 L930.6,349.8 L933.3,345.6 L935.9,341.3 L938.6,337.1 L941.3,332.8 L944.0,328.6 L946.8,324.4 L949.5,320.2 L952.3,316.0 L955.1,311.8 L957.9,307.7 L960.8,303.5 L963.6,299.4 L966.5,295.3 L969.4,291.2 L972.4,287.1 L975.4,283.0 L978.4,279.0 L981.4,275.0 L984.6,271.0 L987.9,267.3 L991.5,263.9 L995.3,260.8 L999.4,257.9 L1003.7,255.4 L1008.1,253.0 L1012.7,250.9 L1017.3,248.9 L1022.1,247.1 L1026.8,245.3 L1031.6,243.7 L1036.4,242.1 L1041.2,240.7 L1046.0,239.3 L1050.9,237.9 L1055.7,236.6 L1060.6,235.4 L1065.5,234.2 L1070.4,233.1 L1075.3,231.9 L1080.2,230.8 L1085.1,229.7 L1090.0,228.6 L1094.9,227.5 L1099.8,226.4 L1104.7,225.3 L1109.6,224.2 L1114.6,223.1 L1119.5,222.0 L1124.4,220.9 L1129.3,219.8 L1134.2,218.7 L1139.1,217.6 L1144.0,216.6 L1148.9,215.5 L1153.8,214.4 L1158.7,213.3 L1163.6,212.2 L1168.5,211.1 L1173.4,210.0 L1178.3,208.9 L1183.2,207.8 L1188.1,206.7 L1193.0,205.6 L1197.9,204.5 L1202.8,203.4 L1207.7,202.2 L1212.6,201.1 L1217.5,200.0 L1222.4,198.8 L1227.3,197.7 L1232.2,196.5 L1237.1,195.4 L1242.0,194.2 L1246.9,193.0 L1251.7,191.8 L1256.6,190.6 L1261.5,189.4 L1266.4,188.1 L1271.3,186.9 L1276.1,185.6 L1281.0,184.3 L1285.9,183.0 L1290.7,181.7 L1295.6,180.4 L1300.4,179.1 L1305.3,177.7 L1310.1,176.4 L1315.0,175.0 L1319.8,173.5 L1324.6,172.1 L1329.4,170.7 L1334.2,169.2 L1339.0,167.7 L1343.8,166.2 L1348.6,164.7 L1353.4,163.1 L1358.1,161.5 L1362.9,159.9 L1367.6,158.3 L1372.4,156.6 L1377.1,154.9 L1381.8,153.2 L1386.5,151.5 L1391.2,149.7 L1395.9,147.9 L1400.6,146.1 L1405.3,144.2 L1409.9,142.4 L1414.6,140.4 L1419.2,138.5 L1423.8,136.5 L1428.4,134.5 L1428.3,139.5 L1428.2,144.6 L1428.2,149.6 L1428.1,154.7 L1428.1,159.7 L1428.1,164.7 L1428.1,169.8 L1428.2,174.8 L1428.2,179.8 L1428.3,184.8 L1428.4,189.9 L1428.5,194.9 L1428.7,199.9 L1428.8,204.9 L1429.0,209.9 L1429.2,214.9 L1429.4,219.9 L1429.6,224.9 L1429.8,230.0 L1430.1,235.0 L1430.3,240.0 L1430.6,245.0 L1430.9,250.0 L1431.2,255.0 L1431.5,260.0 L1431.8,265.0 L1432.2,270.0 L1432.5,275.0 L1432.9,280.0 L1433.3,285.0 L1433.7,290.0 L1434.0,295.0 L1434.5,300.0 L1434.9,305.0 L1435.3,310.0 L1435.7,315.0 L1436.2,320.0 L1436.6,325.1 L1437.1,330.1 L1437.6,335.1 L1438.0,340.1 L1438.5,345.1 L1439.0,350.1 L1439.5,355.1 L1440.1,360.1 L1440.6,365.2 L1441.2,370.2 L1441.8,375.2 L1442.4,380.2 L1443.0,385.2 L1443.7,390.2 L1444.4,395.2 L1445.1,400.1 L1445.8,405.1 L1446.6,410.1 L1447.4,415.1 L1448.3,420.0 L1449.1,425.0 L1450.0,429.9 L1451.0,434.8 L1452.0,439.8 L1453.0,444.7 L1454.1,449.6 L1455.2,454.5 L1456.3,459.4 L1457.6,464.2 L1458.8,469.1 L1460.1,473.9 L1461.5,478.8 L1462.9,483.6 L1464.3,488.3 L1465.9,493.1 L1467.5,497.8 L1469.2,502.5 L1471.0,507.2 L1472.9,511.8 L1474.8,516.4 L1476.9,521.0 L1479.1,525.5 L1481.4,529.9 L1483.8,534.3 L1486.2,538.7 L1488.7,543.0 L1491.3,547.4 L1493.8,551.7 L1496.4,556.0 L1499.0,560.4 L1501.5,564.7 L1504.0,569.1 L1506.5,573.5 L1508.9,578.0 L1511.4,582.4 L1513.8,586.8 L1516.2,591.2 L1518.6,595.7 L1521.1,600.1 L1523.5,604.5 L1526.0,608.9 L1528.5,613.3 L1531.0,617.7 L1533.5,622.0 L1536.0,626.3 L1538.6,630.6 L1541.3,634.9 L1544.0,639.1 L1546.7,643.3 L1549.5,647.5 L1552.3,651.6 L1555.2,655.7 L1558.2,659.7 L1561.2,663.7 L1564.3,667.7 L1567.4,671.6 L1570.5,675.5 L1573.7,679.4 L1576.9,683.2 L1580.1,687.1 L1583.3,690.9 L1586.6,694.7 L1589.8,698.6 L1593.1,702.4 L1596.3,706.2 L1599.6,710.0 L1602.8,713.9 L1606.0,717.7 L1609.3,721.5 L1612.5,725.4 L1615.8,729.2 L1619.0,733.1 L1622.2,736.9 L1625.5,740.7 L1628.7,744.6 L1631.9,748.4 L1635.2,752.3 L1638.4,756.1 L1641.6,760.0 L1644.8,763.9 L1648.0,767.7 L1651.3,771.6 L1654.5,775.4 L1657.7,779.3 L1660.9,783.2 L1664.1,787.0 L1667.3,790.9 L1670.5,794.8 L1673.7,798.7 L1676.9,802.6 L1680.1,806.4 L1683.3,810.3 L1686.4,814.2 L1689.6,818.1 L1692.8,822.0 L1696.0,825.9 L1699.1,829.8 L1702.3,833.7 L1705.5,837.6 L1708.6,841.6 L1711.8,845.5 L1714.9,849.4 L1718.1,853.3 L1721.2,857.2 L1724.3,861.2 L1727.5,865.1 L1730.6,869.0 L1733.7,873.0 L1736.8,876.9 L1739.9,880.9 L1743.0,884.8 L1746.1,888.8 L1749.2,892.8 L1752.3,896.7 L1755.4,900.7 L1758.4,904.7 L1761.5,908.7 L1764.6,912.6 L1767.6,916.6 L1770.7,920.6 L1773.7,924.6 L1776.8,928.6 L1779.8,932.6 L1782.8,936.6 L1785.8,940.7 L1788.9,944.7 L1791.9,948.7 L1794.9,952.7 L1797.9,956.8 L1800.8,960.8 L1803.8,964.8 L1806.8,968.9 L1809.7,973.0 L1812.7,977.0 L1815.6,981.1 L1818.6,985.1 L1821.5,989.2 L1824.4,993.3 L1827.4,997.4 L1830.3,1001.5 L1833.2,1005.6 L1836.1,1009.7 L1838.9,1013.8 L1841.8,1017.9 L1844.7,1022.0 L1847.5,1026.2 L1850.4,1030.3 L1853.2,1034.4 L1856.1,1038.6 L1858.9,1042.7 L1861.7,1046.9 L1864.5,1051.0 L1867.3,1055.2 L1870.1,1059.4 L1872.9,1063.6 L1875.6,1067.8 L1878.4,1072.0 L1881.1,1076.2 L1883.9,1080.4 L1886.6,1084.6 L1889.3,1088.8 L1892.0,1093.0 L1894.7,1097.3 L1897.4,1101.5 L1900.0,1105.8 L1902.7,1110.0 L1905.3,1114.3 L1908.0,1118.6 L1910.6,1122.9 L1913.2,1127.2 L1915.8,1131.5 L1918.4,1135.8 L1920.9,1140.1 L1923.5,1144.4 L1926.0,1148.8 L1928.5,1153.1 L1931.1,1157.5 L1933.6,1161.9 L1936.0,1166.2 L1938.5,1170.6 L1941.0,1175.0 L1943.4,1179.4 L1945.8,1183.8 L1948.2,1188.3 L1950.6,1192.7 L1953.0,1197.2 L1955.3,1201.6 L1957.7,1206.1 L1960.0,1210.6 L1962.3,1215.1 L1964.5,1219.6 L1966.8,1224.1 L1968.9,1228.6 L1971.1,1233.2 L1973.1,1237.8 L1975.2,1242.4 L1977.1,1247.0 L1979.0,1251.6 L1980.8,1256.3 L1982.6,1261.0 L1984.3,1265.7 L1985.9,1270.4 L1987.4,1275.2 L1988.8,1280.0 L1990.1,1284.8 L1991.3,1289.7 L1992.3,1294.6 L1993.3,1299.5 L1994.2,1304.4 L1994.9,1309.4 L1995.5,1314.4 L1996.0,1319.5"/><polygon points="372.5,1312.5 379.5,1319.5 372.5,1326.5 365.5,1319.5" fill="#008000"/><polygon points="1428.4,127.5 1435.4,134.5 1428.4,141.5 1421.4,134.5" fill="#008000"/><polygon points="1996.0,1312.5 2003.0,1319.5 1996.0,1326.5 1989.0,1319.5" fill="#008000"/><path stroke="#000080" d="M372.5,1319.5 L372.4,1314.4 L372.4,1309.4 L372.3,1304.4 L372.2,1299.3 L372.2,1294.3 L372.1,1289.2 L372.1,1284.2 L372.0,1279.2 L372.0,1274.1 L371.9,1269.1 L371.9,1264.1 L371.8,1259.0 L371.8,1254.0 L371.8,1249.0 L371.8,1244.0 L371.7,1239.0 L371.7,1233.9 L371.7,1228.9 L371.8,1223.9 L371.8,1218.9 L371.8,1213.9 L371.9,1208.8 L371.9,1203.8 L372.0,1198.8 L372.1,1193.8 L372.2,1188.8 L372.3,1183.7 L372.4,1178.7 L372.6,1173.7 L372.7,1168.7 L372.9,1163.7 L373.1,1158.7 L373.3,1153.6 L373.6,1148.6 L373.8,1143.6 L374.1,1138.6 L374.4,1133.5 L374.7,1128.5 L375.0,1123.5 L375.4,1118.4 L375.8,1113.4 L376.2,1108.4 L376.6,1103.3 L377.1,1098.3 L377.6,1093.3 L378.1,1088.3 L378.7,1083.2 L379.3,1078.2 L379.9,1073.2 L380.6,1068.2 L381.3,1063.2 L382.1,1058.2 L382.9,1053.3 L383.8,1048.3 L384.7,1043.4 L385.6,1038.4 L386.6,1033.5 L387.7,1028.6 L388.8,1023.7 L390.0,1018.8 L391.3,1014.0 L392.6,1009.1 L394.0,1004.3 L395.4,999.5 L396.9,994.7 L398.5,990.0 L400.1,985.2 L401.9,980.5 L403.7,975.8 L405.5,971.2 L407.5,966.6 L409.5,962.0 L411.6,957.4 L413.8,952.9 L416.0,948.4 L418.4,943.9 L420.8,939.5 L423.2,935.1 L425.8,930.8 L428.4,926.5 L431.0,922.2 L433.8,918.0 L436.6,913.8 L439.5,909.7 L442.5,905.7 L445.5,901.7 L448.6,897.7 L451.8,893.8 L455.0,890.0 L458.3,886.2 L461.6,882.4 L465.0,878.7 L468.5,875.0 L471.9,871.4 L475.4,867.7 L478.9,864.1 L482.3,860.5 L485.8,856.8 L489.3,853.2 L492.7,849.5 L496.2,845.8 L499.5,842.0 L502.9,838.3 L506.1,834.4 L509.3,830.6 L512.5,826.6 L515.6,822.7 L518.6,818.7 L521.6,814.6 L524.5,810.5 L527.3,806.3 L530.0,802.1 L532.6,797.8 L535.1,793.5 L537.6,789.2 L539.9,784.7 L542.2,780.3 L544.3,775.7 L546.4,771.2 L548.3,766.5 L550.1,761.8 L551.8,757.1 L553.4,752.3 L554.9,747.5 L556.4,742.7 L558.0,737.9 L559.5,733.1 L561.2,728.4 L562.9,723.7 L564.9,719.1 L567.0,714.6 L569.3,710.3 L571.9,706.0 L574.7,701.9 L577.7,697.9 L580.8,693.9 L584.0,690.0 L587.3,686.2 L590.6,682.3 L593.9,678.5 L597.1,674.6 L600.4,670.8 L603.7,666.9 L606.9,663.0 L610.1,659.1 L613.2,655.1 L616.3,651.1 L619.3,647.1 L622.2,643.1 L625.1,638.9 L627.9,634.8 L630.6,630.6 L633.2,626.3 L635.8,622.0 L638.3,617.7 L640.7,613.3 L643.1,608.9 L645.5,604.5 L647.8,600.0 L650.1,595.5 L652.4,591.0 L654.7,586.5 L657.0,582.0 L659.2,577.5 L661.5,573.0 L663.7,568.5 L666.0,564.0 L668.3,559.5 L670.6,555.0 L673.0,550.6 L675.3,546.1 L677.7,541.7 L680.1,537.2 L682.5,532.8 L684.9,528.4 L687.3,524.0 L689.8,519.5 L692.2,515.1 L694.6,510.7 L697.0,506.3 L699.3,501.8 L701.7,497.4 L704.0,492.9 L706.3,488.5 L708.6,484.0 L710.8,479.5 L713.1,475.0 L715.2,470.4 L717.4,465.9 L719.5,461.4 L721.6,456.8 L723.7,452.2 L725.7,447.6 L727.8,443.1 L729.8,438.5 L731.8,433.9 L733.8,429.3 L735.9,424.7 L737.9,420.0 L739.9,415.4 L741.9,410.8 L743.9,406.2 L746.0,401.6 L748.0,397.0 L750.1,392.5 L752.2,387.9 L754.3,383.3 L756.4,378.7 L758.5,374.2 L760.7,369.7 L763.0,365.1 L765.2,360.6 L767.5,356.1 L769.8,351.7 L772.2,347.2 L774.6,342.7 L777.0,338.3 L779.4,333.9 L781.8,329.4 L784.3,325.0 L786.7,320.6 L789.1,316.1 L791.5,311.7 L793.9,307.3 L796.3,302.8 L798.6,298.4 L801.0,293.9 L803.2,289.4 L805.4,284.9 L807.6,280.4 L809.7,275.8 L811.8,271.3 L813.8,266.7 L815.7,262.1 L817.6,257.5 L819.4,252.8 L821.0,248.1 L822.6,243.4 L824.1,238.6 L825.5,233.8 L826.8,229.0 L828.1,224.1 L829.2,219.2 L830.3,214.3 L831.3,209.3 L832.2,204.4 L833.1,199.4 L833.9,194.4 L834.7,189.4 L835.4,184.4 L836.1,179.4 L836.8,174.4 L837.5,169.4 L838.1,164.3 L838.7,159.3 L839.4,154.3 L840.0,149.4 L840.7,144.4 L841.3,139.4 L842.0,134.5 L842.2,139.5 L842.3,144.5 L842.5,149.5 L842.6,154.6 L842.7,159.6 L842.8,164.6 L842.9,169.6 L843.0,174.6 L843.1,179.7 L843.1,184.7 L843.2,189.7 L843.2,194.7 L843.3,199.8 L843.3,204.8 L843.3,209.8 L843.3,214.8 L843.3,219.9 L843.3,224.9 L843.3,229.9 L843.3,234.9 L843.3,240.0 L843.3,245.0 L843.2,250.0 L843.2,255.0 L843.2,260.1 L843.2,265.1 L843.1,270.1 L843.1,275.1 L843.1,280.2 L843.1,285.2 L843.0,290.2 L843.0,295.3 L843.0,300.3 L843.0,305.3 L842.9,310.3 L842.9,315.4 L842.9,320.4 L842.9,325.4 L842.9,330.4 L842.9,335.4 L843.0,340.5 L843.0,345.5 L843.0,350.5 L843.1,355.5 L843.1,360.6 L843.2,365.6 L843.2,370.6 L843.3,375.6 L843.4,380.6 L843.5,385.6 L843.6,390.7 L843.7,395.7 L843.9,400.7 L844.0,405.7 L844.2,410.7 L844.4,415.7 L844.5,420.7 L844.7,425.8 L845.0,430.8 L845.2,435.8 L845.4,440.8 L845.7,445.8 L845.9,450.8 L846.2,455.8 L846.5,460.8 L846.8,465.8 L847.1,470.9 L847.5,475.9 L847.8,480.9 L848.2,485.9 L848.6,490.9 L849.0,495.9 L849.4,500.9 L849.9,506.0 L850.3,511.0 L850.8,516.0 L851.3,521.0 L851.8,526.0 L852.4,531.0 L852.9,536.1 L853.5,541.1 L854.1,546.1 L854.7,551.1 L855.4,556.1 L856.2,561.1 L857.1,566.0 L858.1,570.9 L859.2,575.7 L860.5,580.5 L862.0,585.2 L863.7,589.8 L865.6,594.4 L867.8,598.9 L870.2,603.2 L872.8,607.5 L875.5,611.7 L878.3,616.0 L881.0,620.2 L883.8,624.4 L886.4,628.7 L889.0,633.0 L891.6,637.3 L894.3,641.6 L896.9,645.9 L899.5,650.1 L902.2,654.4 L904.8,658.7 L907.5,662.9 L910.1,667.2 L912.8,671.4 L915.5,675.6 L918.2,679.9 L920.9,684.1 L923.6,688.3 L926.3,692.6 L929.0,696.8 L931.7,701.0 L934.4,705.2 L937.1,709.5 L939.8,713.7 L942.4,717.9 L945.1,722.2 L947.8,726.4 L950.5,730.7 L953.1,734.9 L955.8,739.2 L958.5,743.4 L961.1,747.7 L963.7,752.0 L966.4,756.3 L969.0,760.6 L971.6,764.9 L974.1,769.2 L976.7,773.5 L979.3,777.8 L981.8,782.2 L984.4,786.5 L986.9,790.9 L989.4,795.2 L992.0,799.6 L994.5,803.9 L997.0,808.3 L999.5,812.6 L1002.1,817.0 L1004.6,821.4 L1007.1,825.7 L1009.6,830.1 L1012.2,834.4 L1014.7,838.8 L1017.3,843.1 L1019.8,847.4 L1022.4,851.8 L1024.9,856.1 L1027.5,860.4 L1030.1,864.7 L1032.7,869.0 L1035.3,873.3 L1037.9,877.5 L1040.6,881.8 L1043.2,886.1 L1045.9,890.3 L1048.6,894.5 L1051.3,898.7 L1054.0,902.9 L1056.7,907.1 L1059.4,911.3 L1062.1,915.5 L1064.9,919.7 L1067.6,923.9 L1070.3,928.1 L1073.1,932.3 L1075.8,936.5 L1078.5,940.7 L1081.2,944.9 L1083.9,949.1 L1086.6,953.4 L1089.3,957.6 L1092.0,961.8 L1094.6,966.1 L1097.3,970.4 L1099.9,974.6 L1102.5,978.9 L1105.1,983.2 L1107.7,987.5 L1110.3,991.9 L1112.8,996.2 L1115.4,1000.5 L1117.9,1004.9 L1120.4,1009.3 L1122.9,1013.6 L1125.4,1018.0 L1127.8,1022.4 L1130.3,1026.8 L1132.7,1031.3 L1135.1,1035.7 L1137.5,1040.1 L1139.8,1044.6 L1142.1,1049.1 L1144.5,1053.5 L1146.8,1058.0 L1149.0,1062.5 L1151.3,1067.0 L1153.5,1071.5 L1155.7,1076.1 L1157.9,1080.6 L1160.1,1085.1 L1162.2,1089.7 L1164.4,1094.3 L1166.4,1098.8 L1168.5,1103.4 L1170.6,1108.0 L1172.6,1112.6 L1174.6,1117.2 L1176.6,1121.9 L1178.5,1126.5 L1180.4,1131.2 L1182.3,1135.8 L1184.2,1140.5 L1186.0,1145.1 L1187.8,1149.8 L1189.6,1154.5 L1191.4,1159.2 L1193.1,1163.9 L1194.8,1168.7 L1196.4,1173.4 L1198.1,1178.1 L1199.7,1182.9 L1201.3,1187.7 L1202.8,1192.4 L1204.3,1197.2 L1205.8,1202.0 L1207.2,1206.8 L1208.7,1211.6 L1210.1,1216.4 L1211.4,1221.2 L1212.7,1226.1 L1214.0,1230.9 L1215.3,1235.8 L1216.5,1240.6 L1217.7,1245.5 L1218.8,1250.4 L1219.9,1255.2 L1221.0,1260.1 L1222.0,1265.0 L1223.0,1269.9 L1224.0,1274.9 L1224.9,1279.8 L1225.8,1284.7 L1226.7,1289.7 L1227.5,1294.6 L1228.3,1299.6 L1229.0,1304.5 L1229.7,1309.5 L1230.4,1314.5 L1231.0,1319.5"/><polygon points="364.5,1319.5 376.5,1312.6 376.5,1326.4" fill="#000080"/><polygon points="834.0,134.5 846.0,127.6 846.0,141.4" fill="#000080"/><polygon points="1223.0,1319.5 1235.0,1312.6 1235.0,1326.4" fill="#000080"/></g><g fill="#f00" stroke="none"><rect x="1442" y="132" width="67" height="6"/><rect x="1442" y="477" width="67" height="6"/><polygon points="1478,137.5 1463.5,174.5 1493,174.5"/><polygon points="1478,477 1463.5,440.5 1493,440.5"/><rect x="1474.2" y="174" width="7.4" height="30"/><rect x="1474.2" y="232" width="7.4" height="39.5"/><rect x="1474.2" y="300" width="7.4" height="39.5"/><rect x="1474.2" y="368" width="7.4" height="39.5"/><rect x="1474.2" y="436" width="7.4" height="5"/></g><text x="1490" y="334.5" style="font-family:'Liberation Serif','Times New Roman',serif;font-weight:bold;font-size:63px">IR</text><g stroke="#000" stroke-width="6" fill="none" stroke-linecap="butt"><rect x="197.0" y="16.0" width="1931.0" height="1422.4" stroke-linejoin="miter"/><line x1="194.0" y1="1438.4" x2="182.0" y2="1438.4"/><line x1="194.0" y1="1319.9" x2="168.0" y2="1319.9"/><line x1="194.0" y1="1201.3" x2="182.0" y2="1201.3"/><line x1="194.0" y1="1082.8" x2="168.0" y2="1082.8"/><line x1="194.0" y1="964.3" x2="182.0" y2="964.3"/><line x1="194.0" y1="845.7" x2="168.0" y2="845.7"/><line x1="194.0" y1="727.2" x2="182.0" y2="727.2"/><line x1="194.0" y1="608.7" x2="168.0" y2="608.7"/><line x1="194.0" y1="490.1" x2="182.0" y2="490.1"/><line x1="194.0" y1="371.6" x2="168.0" y2="371.6"/><line x1="194.0" y1="253.1" x2="182.0" y2="253.1"/><line x1="194.0" y1="134.5" x2="168.0" y2="134.5"/><line x1="194.0" y1="16.0" x2="182.0" y2="16.0"/><line x1="197.0" y1="1441.4" x2="197.0" y2="1453.4"/><line x1="372.5" y1="1441.4" x2="372.5" y2="1467.4"/><line x1="548.1" y1="1441.4" x2="548.1" y2="1453.4"/><line x1="723.6" y1="1441.4" x2="723.6" y2="1467.4"/><line x1="899.2" y1="1441.4" x2="899.2" y2="1453.4"/><line x1="1074.7" y1="1441.4" x2="1074.7" y2="1467.4"/><line x1="1250.3" y1="1441.4" x2="1250.3" y2="1453.4"/><line x1="1425.8" y1="1441.4" x2="1425.8" y2="1467.4"/><line x1="1601.4" y1="1441.4" x2="1601.4" y2="1453.4"/><line x1="1776.9" y1="1441.4" x2="1776.9" y2="1467.4"/><line x1="1952.5" y1="1441.4" x2="1952.5" y2="1453.4"/><line x1="2128.0" y1="1441.4" x2="2128.0" y2="1467.4"/></g><g style="font-family:'Liberation Serif','Times New Roman',serif;font-weight:bold;font-size:63px" fill="#000"><text x="148.3" y="153.2" text-anchor="end">0.8</text><text x="148.3" y="390.3" text-anchor="end">0.6</text><text x="148.3" y="627.4" text-anchor="end">0.4</text><text x="148.3" y="864.4" text-anchor="end">0.2</text><text x="148.3" y="1101.5" text-anchor="end">0.0</text><text x="148.3" y="1338.6" text-anchor="end">-0.2</text><text x="372.5" y="1535.8" text-anchor="middle">0</text><text x="723.6" y="1535.8" text-anchor="middle">1000</text><text x="1074.7" y="1535.8" text-anchor="middle">2000</text><text x="1425.8" y="1535.8" text-anchor="middle">3000</text><text x="1776.9" y="1535.8" text-anchor="middle">4000</text><text x="2128.0" y="1535.8" text-anchor="middle">5000</text><text x="974.8" y="1597.6">Time (s)</text><text transform="translate(56,913) rotate(-90)" style="font-size:64px">Potential (V)</text></g><rect x="1632" y="68.0" width="142" height="12" fill="#000000"/><text x="1789" y="94.0" style="font-family:'Liberation Serif','Times New Roman',serif;font-weight:bold;font-size:63px">PANI</text><rect x="1632" y="147.1" width="142" height="12" fill="#ff0000"/><text x="1789" y="173.1" style="font-family:'Liberation Serif','Times New Roman',serif;font-weight:bold;font-size:63px">PANI-0.25</text><rect x="1632" y="226.2" width="142" height="12" fill="#0000ff"/><polygon points="1703.0,224.2 1696.1,236.2 1709.9,236.2" fill="#0000ff"/><text x="1789" y="252.2" style="font-family:'Liberation Serif','Times New Roman',serif;font-weight:bold;font-size:63px">PANI-1</text><rect x="1632" y="305.3" width="142" height="12" fill="#ff00ff"/><polygon points="1703.0,319.3 1696.1,307.3 1709.9,307.3" fill="#ff00ff"/><text x="1789" y="331.3" style="font-family:'Liberation Serif','Times New Roman',serif;font-weight:bold;font-size:63px">PANI-2</text><rect x="1632" y="384.4" width="142" height="12" fill="#008000"/><polygon points="1703.0,383.4 1710.0,390.4 1703.0,397.4 1696.0,390.4" fill="#008000"/><text x="1789" y="410.4" style="font-family:'Liberation Serif','Times New Roman',serif;font-weight:bold;font-size:63px">PANI-3</text><rect x="1632" y="463.5" width="142" height="12" fill="#000080"/><polygon points="1698.0,469.5 1710.0,462.6 1710.0,476.4" fill="#000080"/><text x="1789" y="489.5" style="font-family:'Liberation Serif','Times New Roman',serif;font-weight:bold;font-size:63px">PANI-4</text></svg>
</body></html>
